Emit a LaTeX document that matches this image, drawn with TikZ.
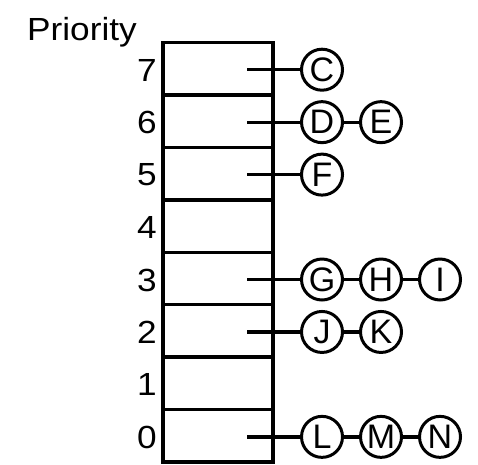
\documentclass[tikz,border=0pt]{standalone}
\usepackage{fontspec}
\setmainfont{Liberation Sans}
\begin{document}
\begin{tikzpicture}[x=1pt,y=-1pt,
  slot/.style={draw,line width=3.5pt,minimum width=110pt,minimum height=52.45pt,inner sep=0pt,outer sep=0pt},
  proc/.style={draw,circle,line width=3pt,minimum size=41pt,inner sep=0pt,font=\fontsize{34}{35}\selectfont},
  lvl/.style={anchor=east,inner sep=0pt,font=\fontsize{32}{34}\selectfont},
  link/.style={line width=3.3pt}]
\useasboundingbox (0,0) rectangle (478,464);
\node[anchor=base west,inner sep=0pt,font=\fontsize{32}{34}\selectfont] (title) at (27,40) {\scalebox{1.1}[1]{Priority}};
\foreach \i in {7,...,0}{
  \pgfmathsetmacro{\yc}{42.5+(7-\i)*52.45+26.2}
  \node[slot] (r\i) at (218,\yc) {};
  \node[lvl] (n\i) at (157,\yc+1.5) {\scalebox{1.1}[1]{\i}};
  \coordinate (s\i) at (247,\yc+1);
}
% processes
\foreach \row/\lst in {7/{C},6/{D,E},5/{F},3/{G,H,I},2/{J,K},0/{L,M,N}}{
  \foreach \name [count=\k] in \lst {
    \pgfmathsetmacro{\xx}{322+(\k-1)*59}
    \pgfmathsetmacro{\yy}{42.5+(7-\row)*52.45+27.2}
    \node[proc] (\name) at (\xx,\yy) {\name};
  }
}
\draw[link] (s7) -- (C);
\draw[link] (s6) -- (D); \draw[link] (D) -- (E);
\draw[link] (s5) -- (F);
\draw[link] (s3) -- (G); \draw[link] (G) -- (H); \draw[link] (H) -- (I);
\draw[link] (s2) -- (J); \draw[link] (J) -- (K);
\draw[link] (s0) -- (L); \draw[link] (L) -- (M); \draw[link] (M) -- (N);
\end{tikzpicture}
\end{document}
